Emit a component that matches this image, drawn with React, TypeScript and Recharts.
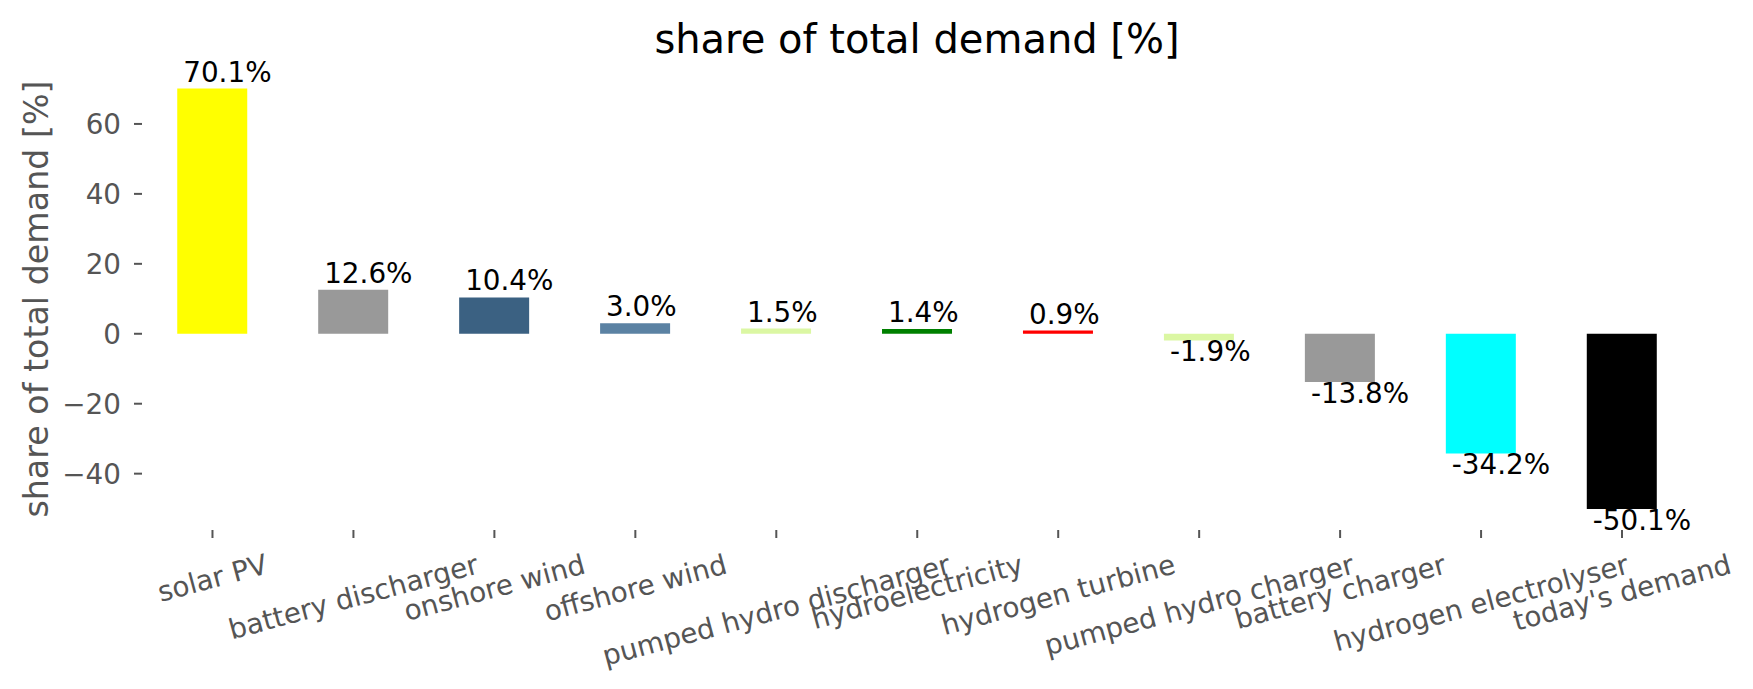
import { BarChart, Bar, XAxis, YAxis, Cell, LabelList } from "recharts"

const categories = [
  "solar PV",
  "battery discharger",
  "onshore wind",
  "offshore wind",
  "pumped hydro discharger",
  "hydroelectricity",
  "hydrogen turbine",
  "pumped hydro charger",
  "battery charger",
  "hydrogen electrolyser",
  "today's demand",
]

const shares = [70.1, 12.6, 10.4, 3.0, 1.5, 1.4, 0.9, -1.9, -13.8, -34.2, -50.1]

const barColors = [
  "#ffff00",
  "#999999",
  "#3b6182",
  "#5b82a3",
  "#dbf7a3",
  "#008000",
  "#ff0000",
  "#dbf7a3",
  "#999999",
  "#00ffff",
  "#000000",
]

const yTicks = [-40, -20, 0, 20, 40, 60]

const FONT = "DejaVu Sans"
const TICK_SIZE = 27.8
const ANGLE = 15

let measureCtx: CanvasRenderingContext2D | null = null
function textWidth(text: string, size: number): number {
  if (!measureCtx) {
    measureCtx = document.createElement("canvas").getContext("2d")
  }
  if (!measureCtx) return text.length * size * 0.58
  measureCtx.font = `${size}px "${FONT}"`
  return measureCtx.measureText(text).width
}

// matplotlib-style rotated label: the rotated bounding box is centred on the tick
// and its top sits a fixed pad below the tick mark
function XTick(props: any) {
  const { x, y, payload } = props
  const label = String(payload.value)
  const w = textWidth(label, TICK_SIZE)
  const h = TICK_SIZE * 1.164
  const rad = (ANGLE * Math.PI) / 180
  const boxH = w * Math.sin(rad) + h * Math.cos(rad)
  const cy = y + 8 + boxH / 2
  return (
    <g transform={`translate(${x},${cy}) rotate(${-ANGLE})`}>
      <text
        x={0}
        y={TICK_SIZE * 0.346}
        textAnchor="middle"
        fill="#555555"
        fontSize={TICK_SIZE}
        fontFamily={FONT}
      >
        {label}
      </text>
    </g>
  )
}

function ValueLabel(props: any) {
  const { x, y, height, value } = props
  const top = Math.min(y, y + height)
  const bottom = Math.max(y, y + height)
  const v = Number(value)
  return (
    <text
      x={x + 6}
      y={v >= 0 ? top - 7 : bottom + 21}
      fill="#000000"
      fontSize={TICK_SIZE}
      fontFamily={FONT}
    >
      {`${v.toFixed(1)}%`}
    </text>
  )
}

export default function App() {
  const data = categories.map((name, i) => ({ name, share: shares[i] }))

  return (
    <div style={{ position: "absolute", left: 0, top: 0, width: 1753, height: 689, background: "#fff" }}>
      <BarChart
        width={1753}
        height={689}
        data={data}
        margin={{ top: 67.6, right: 60.5, left: 0, bottom: 0 }}
        barCategoryGap="25%"
      >
        <XAxis
          dataKey="name"
          interval={0}
          axisLine={false}
          tickLine={{ stroke: "#555555", strokeWidth: 2 }}
          tickSize={8}
          height={159}
          tick={<XTick />}
        />
        <YAxis
          width={142}
          domain={[-56.11, 76.11]}
          ticks={yTicks}
          allowDataOverflow
          axisLine={false}
          tickLine={{ stroke: "#555555", strokeWidth: 2 }}
          tickSize={8}
          tickMargin={13}
          tick={{ fill: "#555555", fontSize: TICK_SIZE, fontFamily: FONT }}
          tickFormatter={(v) => (v < 0 ? `\u2212${-v}` : `${v}`)}
        />
        <Bar dataKey="share" isAnimationActive={false}>
          {data.map((d, i) => (
            <Cell key={d.name} fill={barColors[i]} />
          ))}
          <LabelList dataKey="share" content={<ValueLabel />} />
        </Bar>
      </BarChart>
      <svg
        width={1753}
        height={689}
        style={{ position: "absolute", left: 0, top: 0, pointerEvents: "none" }}
      >
        <text x={917} y={53} textAnchor="middle" fontSize={40} fontFamily={FONT} fill="#000000">
          share of total demand [%]
        </text>
        <text
          transform="translate(48,299) rotate(-90)"
          textAnchor="middle"
          fontSize={33.3}
          fontFamily={FONT}
          fill="#555555"
        >
          share of total demand [%]
        </text>
      </svg>
    </div>
  )
}
